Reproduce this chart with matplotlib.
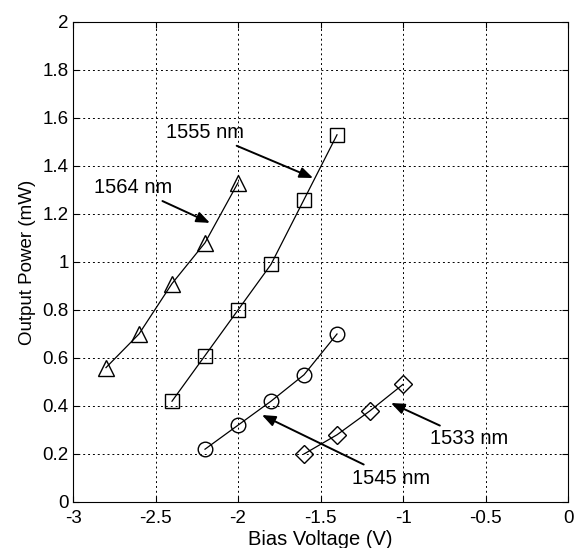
import numpy as np
import matplotlib
matplotlib.use("Agg")
import matplotlib.pyplot as plt

plt.rcParams['font.family'] = ['Liberation Sans', 'DejaVu Sans']

# data
v_1564 = [-2.8, -2.6, -2.4, -2.2, -2.0]
p_1564 = [0.56, 0.70, 0.91, 1.08, 1.33]

v_1555 = [-2.4, -2.2, -2.0, -1.8, -1.6, -1.4]
p_1555 = [0.42, 0.61, 0.80, 0.99, 1.26, 1.53]

v_1545 = [-2.2, -2.0, -1.8, -1.6, -1.4]
p_1545 = [0.22, 0.32, 0.42, 0.53, 0.70]

v_1533 = [-1.6, -1.4, -1.2, -1.0]
p_1533 = [0.20, 0.28, 0.38, 0.49]

labels = ["1564 nm", "1555 nm", "1545 nm", "1533 nm"]
xticks = [-3, -2.5, -2, -1.5, -1, -0.5, 0]
yticks = [0, 0.2, 0.4, 0.6, 0.8, 1, 1.2, 1.4, 1.6, 1.8, 2]

fig = plt.figure(figsize=(5.76, 5.48), dpi=100)
ax = fig.add_axes([73/576, 1 - 502/548, 495/576, 480/548])

mk = dict(color='black', lw=0.9, mfc='none', mec='black', mew=1.0)
ax.plot(v_1564, p_1564, marker='^', ms=12, **mk)
ax.plot(v_1555, p_1555, marker='s', ms=10, **mk)
ax.plot(v_1545, p_1545, marker='o', ms=10.5, **mk)
ax.plot(v_1533, p_1533, marker='D', ms=9.5, **mk)

arrow = dict(arrowstyle='-|>,head_length=0.5,head_width=0.2', color='black',
             lw=1.4, mutation_scale=16, shrinkA=2, shrinkB=0)
txt = dict(ha='center', va='center', fontsize=14.5, arrowprops=arrow)
ax.annotate(labels[0], xy=(-2.17, 1.163), xytext=(-2.635, 1.31), **txt)
ax.annotate(labels[1], xy=(-1.545, 1.35), xytext=(-2.2, 1.54), **txt)
ax.annotate(labels[2], xy=(-1.855, 0.3625), xytext=(-1.07, 0.1), **txt)
ax.annotate(labels[3], xy=(-1.073, 0.4125), xytext=(-0.6, 0.2625), **txt)

ax.set_xlim(-3, 0)
ax.set_ylim(0, 2)
ax.set_xticks(xticks)
ax.set_xticklabels([f"{t:g}" for t in xticks])
ax.set_yticks(yticks)
ax.set_yticklabels([f"{t:g}" for t in yticks])
ax.tick_params(direction='in', length=4, labelsize=13.5, top=True, right=True, pad=3)
ax.tick_params(axis='x', pad=6)
ax.grid(True, color='black', linestyle=(0, (2, 3)), lw=0.7)
for s in ax.spines.values():
    s.set_linewidth(0.8)

ax.set_xlabel("Bias Voltage (V)", fontsize=14.5, labelpad=2)
ax.set_ylabel("Output Power (mW)", fontsize=13.5, labelpad=5)

fig.savefig("out.png", dpi=100)
